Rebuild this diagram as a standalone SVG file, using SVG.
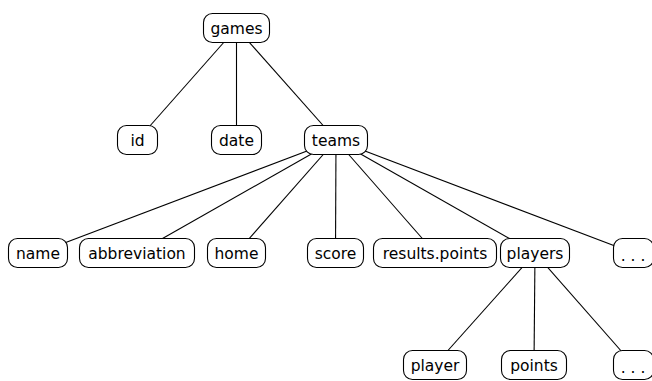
<svg xmlns="http://www.w3.org/2000/svg" width="652" height="381" viewBox="0 0 652 381">
<style>
.n rect{fill:#fff;stroke:#000;stroke-width:1.1}
.n text{font-family:"DejaVu Sans",sans-serif;font-size:15.5px;fill:#000;text-anchor:middle;dominant-baseline:central}
#edges line{stroke:#000;stroke-width:1.1}
</style>
<rect width="652" height="381" fill="#fff"/>
<g id="edges">
<line x1="236.5" y1="28" x2="137.5" y2="140"/>
<line x1="236.5" y1="28" x2="236.5" y2="140"/>
<line x1="236.5" y1="28" x2="336" y2="140"/>
<line x1="336" y1="140" x2="38" y2="253"/>
<line x1="336" y1="140" x2="137" y2="253"/>
<line x1="336" y1="140" x2="236.5" y2="253"/>
<line x1="336" y1="140" x2="335.5" y2="253"/>
<line x1="336" y1="140" x2="435" y2="253"/>
<line x1="336" y1="140" x2="535" y2="253"/>
<line x1="336" y1="140" x2="633.5" y2="253"/>
<line x1="535" y1="253" x2="435" y2="365"/>
<line x1="535" y1="253" x2="534" y2="365"/>
<line x1="535" y1="253" x2="633.5" y2="365"/>
</g>
<g id="games" class="n"><rect x="203.5" y="13.5" width="66" height="29" rx="9"/><text x="236.5" y="29">games</text></g>
<g id="id" class="n"><rect x="117.5" y="125.5" width="40" height="29" rx="9"/><text x="137.5" y="141">id</text></g>
<g id="date" class="n"><rect x="211.5" y="125.5" width="50" height="29" rx="9"/><text x="236.5" y="141">date</text></g>
<g id="teams" class="n"><rect x="304.5" y="125.5" width="63" height="29" rx="9"/><text x="336" y="141">teams</text></g>
<g id="name" class="n"><rect x="8.5" y="238.5" width="59" height="29" rx="9"/><text x="38" y="254">name</text></g>
<g id="abbreviation" class="n"><rect x="79.5" y="238.5" width="115" height="29" rx="9"/><text x="137" y="254">abbreviation</text></g>
<g id="home" class="n"><rect x="207.5" y="238.5" width="58" height="29" rx="9"/><text x="236.5" y="254">home</text></g>
<g id="score" class="n"><rect x="307.5" y="238.5" width="56" height="29" rx="9"/><text x="335.5" y="254">score</text></g>
<g id="results_points" class="n"><rect x="373.5" y="238.5" width="123" height="29" rx="9"/><text x="435" y="254">results.points</text></g>
<g id="players" class="n"><rect x="500.5" y="238.5" width="69" height="29" rx="9"/><text x="535" y="254">players</text></g>
<g id="more_teams" class="n"><rect x="613.5" y="238.5" width="40" height="29" rx="9"/><text x="633" y="256">. . .</text></g>
<g id="player" class="n"><rect x="403.5" y="350.5" width="63" height="29" rx="9"/><text x="435" y="366">player</text></g>
<g id="points" class="n"><rect x="501.5" y="350.5" width="65" height="29" rx="9"/><text x="534" y="366">points</text></g>
<g id="more_players" class="n"><rect x="613.5" y="350.5" width="40" height="29" rx="9"/><text x="633" y="368">. . .</text></g>
</svg>
